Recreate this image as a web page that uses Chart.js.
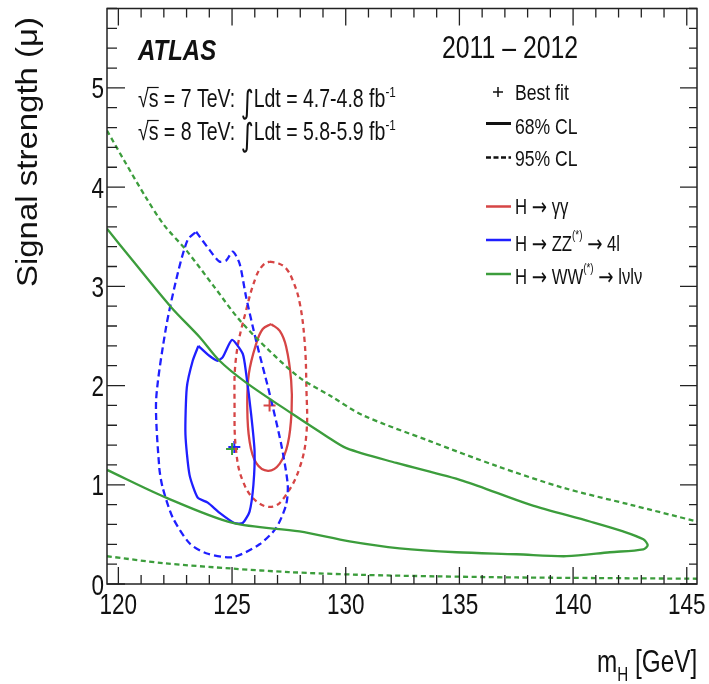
<!DOCTYPE html>
<html>
<head>
<meta charset="utf-8">
<title>Signal strength vs m_H</title>
<script src="https://cdn.jsdelivr.net/npm/chart.js@4/dist/chart.umd.min.js"></script>
<style>
  html, body { margin: 0; padding: 0; background: #fff; }
  canvas { display: block; }
</style>
</head>
<body>
<canvas id="c" width="709" height="684"></canvas>
<script>
// ---- axis ranges and tick labels ----
const massRange = [119.5, 145.45];
const muRange = [0, 5.8];
const massTickLabels = [120, 125, 130, 135, 140, 145];
const muTickLabels = [0, 1, 2, 3, 4, 5];

// ---- H -> gamma gamma contours ----
const ggSolidMass = [126.72, 127.10, 127.38, 127.60, 127.62, 127.45, 127.09, 126.58, 126.06, 125.77, 125.67, 125.74, 126.06, 126.35, 126.72];
const ggSolidMu   = [2.62, 2.55, 2.39, 2.05, 1.75, 1.41, 1.21, 1.14, 1.22, 1.44, 1.78, 2.12, 2.42, 2.57, 2.62];
const ggDashMass  = [126.65, 127.05, 127.38, 127.67, 127.97, 128.19, 128.27, 128.27, 127.97, 127.38, 126.80, 126.06, 125.47, 125.18, 125.11, 125.18, 125.62, 126.06, 126.35, 126.65];
const ggDashMu    = [3.25, 3.23, 3.18, 3.06, 2.84, 2.45, 1.98, 1.51, 1.17, 0.90, 0.78, 0.835, 1.04, 1.34, 1.78, 2.29, 2.76, 3.10, 3.21, 3.25];

// ---- H -> ZZ(*) -> 4l contours ----
const zzSolidMass = [123.52, 124.00, 124.37, 124.60, 125.00, 125.47, 125.62, 125.84, 125.99, 125.94, 125.77, 125.47, 125.10, 124.44, 123.93, 123.49, 123.13, 122.95, 123.01, 123.27, 123.52];
const zzSolidMu   = [2.40, 2.30, 2.25, 2.29, 2.46, 2.32, 2.12, 1.71, 1.34, 1.00, 0.73, 0.615, 0.615, 0.72, 0.82, 0.87, 1.10, 1.51, 1.98, 2.25, 2.40];
const zzDashMass  = [123.42, 124.00, 124.44, 124.74, 125.03, 125.33, 125.62, 126.06, 126.65, 127.16, 127.45, 127.38, 126.94, 126.21, 125.03, 123.86, 123.13, 122.39, 121.95, 121.80, 121.66, 122.10, 122.61, 123.05, 123.42];
const zzDashMu    = [3.55, 3.37, 3.25, 3.26, 3.35, 3.23, 2.89, 2.45, 1.92, 1.41, 1.00, 0.80, 0.565, 0.40, 0.27, 0.31, 0.41, 0.67, 0.97, 1.17, 1.85, 2.59, 3.13, 3.47, 3.55];

// ---- H -> WW(*) -> lvlv contours ----
const wwSolidMass = [119.5, 120.63, 122.32, 123.57, 124.45, 125.62, 127.68, 129.15, 130.03, 132.23, 135.16, 138.10, 140.74, 142.20, 143.09, 143.28, 143.09, 141.62, 139.71, 137.51, 134.87, 132.37, 130.17, 127.97, 125.03, 122.10, 119.5];
const wwSolidMu   = [3.58, 3.26, 2.79, 2.49, 2.25, 2.03, 1.71, 1.49, 1.37, 1.22, 1.04, 0.80, 0.63, 0.53, 0.45, 0.39, 0.35, 0.32, 0.28, 0.30, 0.32, 0.36, 0.43, 0.53, 0.615, 0.87, 1.15];
const wwDashUpMass = [119.5, 120.3, 121.2, 122.0, 123.0, 124.2, 125.33, 126.6, 127.97, 129.3, 130.76, 133.7, 136.63, 139.56, 142.5, 145.45];
const wwDashUpMu   = [4.57, 4.25, 3.90, 3.62, 3.36, 3.00, 2.66, 2.36, 2.08, 1.90, 1.70, 1.44, 1.19, 0.97, 0.80, 0.63];
const wwDashLoMass = [119.5, 122.0, 125.03, 127.5, 130.6, 134.0, 137.5, 141.0, 145.45];
const wwDashLoMu   = [0.28, 0.21, 0.155, 0.12, 0.093, 0.077, 0.066, 0.060, 0.053];

// ---- best-fit points (gamma gamma, ZZ, WW) ----
const bestFitMass = [126.65, 125.10, 125.00];
const bestFitMu   = [1.80, 1.38, 1.36];

// ---- styling ----
const RED = '#d64545', BLUE = '#1f1fff', GREEN = '#3c9d3c';
const FAM = '"Liberation Sans", Arial, Helvetica, sans-serif';
const SYM = '"DejaVu Sans", sans-serif';

const pts = (xs, ys) => xs.map((v, i) => ({ x: v, y: ys[i] }));

function contour(xs, ys, color, dash, tension) {
  return {
    data: pts(xs, ys),
    showLine: true,
    borderColor: color,
    borderWidth: 2.3,
    borderDash: dash,
    pointRadius: 0,
    tension: tension,
    fill: false
  };
}

// horizontally squeezed text
function drawText(ctx, s, x, y, size, sx, opts = {}) {
  ctx.save();
  ctx.font = `${opts.style || ''} ${size}px ${opts.fam || FAM}`;
  ctx.fillStyle = opts.color || '#111';
  ctx.textAlign = opts.align || 'left';
  ctx.textBaseline = 'alphabetic';
  ctx.translate(x, y);
  ctx.scale(sx, 1);
  ctx.fillText(s, 0, 0);
  ctx.restore();
}
// run of text pieces, each with its own size / offset; returns end x
function drawRich(ctx, x, y, sx, parts) {
  let cx = x;
  for (const p of parts) {
    ctx.save();
    ctx.font = `${p.style || ''} ${p.size}px ${p.fam || FAM}`;
    const w = ctx.measureText(p.t).width * sx;
    ctx.restore();
    drawText(ctx, p.t, cx, y + (p.dy || 0), p.size, sx, { style: p.style, fam: p.fam });
    p.x0 = cx; p.x1 = cx + w;
    cx += w + (p.gap || 0);
  }
  return cx;
}

const framePlugin = {
  id: 'frameAndLabels',
  afterDraw(chart) {
    const { ctx, chartArea: a, scales: { x, y } } = chart;
    ctx.save();
    ctx.strokeStyle = '#222';
    ctx.lineWidth = 1.5;
    ctx.strokeRect(a.left, a.top, a.right - a.left, a.bottom - a.top);

    // ticks along mass axis (bottom and top)
    ctx.lineWidth = 1.3;
    ctx.beginPath();
    for (let v = 120; v <= 145; v++) {
      const px = x.getPixelForValue(v);
      const len = v % 5 === 0 ? 17 : 9;
      ctx.moveTo(px, a.bottom); ctx.lineTo(px, a.bottom - len);
      ctx.moveTo(px, a.top); ctx.lineTo(px, a.top + len);
    }
    // ticks along mu axis (left and right)
    for (let i = 0; i <= 29; i++) {
      const py = y.getPixelForValue(i * 0.2);
      const major = i % 5 === 0;
      ctx.moveTo(a.left, py); ctx.lineTo(a.left + (major ? 18 : 10), py);
      ctx.moveTo(a.right, py); ctx.lineTo(a.right - (major ? 17 : 8), py);
    }
    ctx.stroke();

    // tick labels
    massTickLabels.forEach(v => {
      drawText(ctx, String(v), x.getPixelForValue(v), 614, 30, 0.75, { align: 'center' });
    });
    muTickLabels.forEach(v => {
      drawText(ctx, String(v), 104, y.getPixelForValue(v) + 10.5, 30, 0.75, { align: 'right' });
    });

    // axis titles
    ctx.save();
    ctx.translate(37, 152);
    ctx.rotate(-Math.PI / 2);
    ctx.scale(0.97, 0.85);
    ctx.font = `34px ${FAM}`;
    ctx.fillStyle = '#111';
    ctx.textAlign = 'center';
    ctx.fillText('Signal strength (\u03bc)', 0, 0);
    ctx.restore();

    drawRich(ctx, 597, 671.5, 0.76, [
      { t: 'm', size: 32 },
      { t: 'H', size: 20, dy: 9 },
      { t: ' [GeV]', size: 32 }
    ]);

    // headline texts
    drawText(ctx, 'ATLAS', 138, 60, 30, 0.8, { style: 'italic bold' });
    drawText(ctx, '2011 \u2013 2012', 442, 58, 32, 0.775);

    // luminosity lines
    [[107, '7', '4.7-4.8'], [140, '8', '5.8-5.9']].forEach(([base, e, lumi]) => {
      const parts = [
        { t: '\u221a', size: 25 },
        { t: 's = ' + e + ' TeV: ', size: 25 },
        { t: '\u222b', size: 32, dy: 6, fam: SYM },
        { t: 'Ldt = ' + lumi + ' fb', size: 25 },
        { t: '-1', size: 15, dy: -10 }
      ];
      drawRich(ctx, 138, base, 0.78, parts);
      // bar over the s under the root sign
      const s1 = parts[1].x0 + 10;
      ctx.strokeStyle = '#111'; ctx.lineWidth = 1.2;
      ctx.beginPath();
      ctx.moveTo(parts[0].x1 - 1.5, base - 19.5); ctx.lineTo(s1, base - 19.5);
      ctx.stroke();
    });

    // legend: best fit / CL styles
    ctx.strokeStyle = '#111';
    ctx.lineWidth = 1.5;
    ctx.beginPath();
    ctx.moveTo(493, 92); ctx.lineTo(503, 92);
    ctx.moveTo(498, 87); ctx.lineTo(498, 97);
    ctx.stroke();
    drawText(ctx, 'Best fit', 515, 100, 22, 0.8);

    ctx.lineWidth = 3;
    ctx.beginPath(); ctx.moveTo(486, 123.5); ctx.lineTo(511, 123.5); ctx.stroke();
    drawText(ctx, '68% CL', 515, 133.5, 22, 0.8);

    ctx.lineWidth = 2.5;
    ctx.setLineDash([5, 2.5]);
    ctx.beginPath(); ctx.moveTo(486, 157.5); ctx.lineTo(511, 157.5); ctx.stroke();
    ctx.setLineDash([]);
    drawText(ctx, '95% CL', 515, 165.5, 22, 0.8);

    // legend: channels
    const sp = { t: ' ', size: 22 };
    const arrow = { t: '\u2192', size: 24, dy: 1, fam: SYM };
    const rows = [
      [RED, 206.5, 213.5, [{ t: 'H', size: 22 }, sp, arrow, sp, { t: '\u03b3\u03b3', size: 22 }]],
      [BLUE, 240, 251, [{ t: 'H', size: 22 }, sp, arrow, sp, { t: 'ZZ', size: 22 }, { t: '(*)', size: 13, dy: -12 }, sp, arrow, sp, { t: '4l', size: 22 }]],
      [GREEN, 274, 283.5, [{ t: 'H', size: 22 }, sp, arrow, sp, { t: 'WW', size: 22 }, { t: '(*)', size: 13, dy: -12 }, sp, arrow, sp, { t: 'l\u03bdl\u03bd', size: 22 }]]
    ];
    rows.forEach(([col, ly, base, parts]) => {
      ctx.strokeStyle = col; ctx.lineWidth = 2.5;
      ctx.beginPath(); ctx.moveTo(486, ly); ctx.lineTo(511, ly); ctx.stroke();
      drawRich(ctx, 515, base, 0.76, parts.map(p => Object.assign({}, p)));
    });

    ctx.restore();
  }
};

new Chart(document.getElementById('c'), {
  type: 'scatter',
  data: {
    datasets: [
      contour(wwDashUpMass, wwDashUpMu, GREEN, [5, 3.5], 0.3),
      contour(wwDashLoMass, wwDashLoMu, GREEN, [5, 3.5], 0.3),
      contour(wwSolidMass, wwSolidMu, GREEN, [], 0.3),
      contour(zzDashMass, zzDashMu, BLUE, [7, 4], 0.25),
      contour(zzSolidMass, zzSolidMu, BLUE, [], 0.2),
      contour(ggDashMass, ggDashMu, RED, [5, 4], 0.4),
      contour(ggSolidMass, ggSolidMu, RED, [], 0.4),
      {
        data: pts(bestFitMass, bestFitMu),
        showLine: false,
        pointStyle: 'cross',
        pointRadius: 6,
        borderWidth: 2,
        borderColor: [RED, BLUE, GREEN],
        backgroundColor: [RED, BLUE, GREEN]
      }
    ]
  },
  options: {
    responsive: false,
    devicePixelRatio: 1,
    animation: false,
    events: [],
    layout: { padding: { left: 107, top: 8.5, right: 12, bottom: 100 } },
    plugins: { legend: { display: false }, tooltip: { enabled: false } },
    scales: {
      x: { type: 'linear', min: massRange[0], max: massRange[1], display: false },
      y: { type: 'linear', min: muRange[0], max: muRange[1], display: false }
    }
  },
  plugins: [framePlugin]
});
</script>
</body>
</html>
